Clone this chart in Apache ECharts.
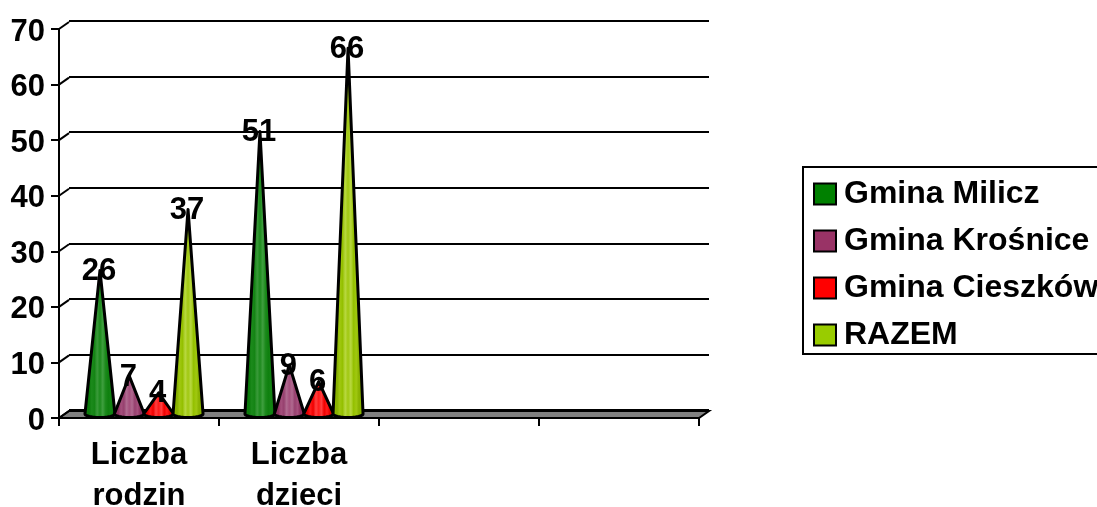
<!DOCTYPE html>
<html><head><meta charset="utf-8">
<style>html,body{margin:0;padding:0;background:#fff}#c{width:1097px;height:507px}</style>
<script src="https://cdn.jsdelivr.net/npm/echarts@6/dist/echarts.min.js"></script>
</head><body><div id="c"></div>
<script>
const categories = ['Liczba\nrodzin', 'Liczba\ndzieci', '', ''];
const milicz = [26, 51];
const krosnice = [7, 9];
const cieszkow = [4, 6];
const razem = [37, 66];
const yTicks = [0, 10, 20, 30, 40, 50, 60, 70];

const FONT = '"Liberation Sans", Arial, sans-serif';
const DX = 10, DY = 7;
function coneGradient(stops) {
  const list = [];
  const n = stops.length;
  stops.forEach((c, i) => list.push({ offset: i / (n - 1), color: c }));
  return { type: 'linear', x: 0, y: 0, x2: 1, y2: 0, colorStops: list };
}
const seriesDefs = [
  { name: 'Gmina Milicz', data: milicz, color: '#008000', stops: ['#0a6a0a','#0f800f','#0a7a0a','#1c8a1c','#148414','#3a9a3a','#1c8a1c','#3f9f3f','#1c8a1c','#0f800f','#148414','#0f7a0f','#0a6a0a'], slot: 0 },
  { name: 'Gmina Krośnice', data: krosnice, color: '#993366', stops: ['#7e2a55','#993366','#8c2e5e','#a5507d','#96406e','#b06a90','#a5507d','#b06a90','#96406e','#a5507d','#8c2e5e','#993366','#7e2a55'], slot: 1 },
  { name: 'Gmina Cieszków', data: cieszkow, color: '#FF0000', stops: ['#d80000','#f00000','#e60000','#ff1a1a','#f00000','#ff4040','#ff1a1a','#ff4040','#f00000','#ff1a1a','#e60000','#f00000','#d80000'], slot: 2 },
  { name: 'RAZEM', data: razem, color: '#99CC00', stops: ['#7a9c00','#90bc00','#88b000','#a0c810','#94c000','#b8d840','#a0c810','#b8d840','#94c000','#a0c810','#88b000','#90bc00','#7a9c00'], slot: 3 }
];

function coneRenderer(def) {
  return function (params, api) {
    const cat = api.value(0), v = api.value(1);
    const p = api.coord([cat, v]);
    const base = api.coord([cat, 0]);
    const bandW = api.size([1, 0])[0];
    const cx = p[0] + 5 + (def.slot - 1.5) * bandW * 0.1835;
    const halfW = 15, ry = 3.5;
    const by = base[1] - 4;
    const tipY = p[1] - 3;
    const pts = [[cx, tipY]];
    for (let a = 0; a <= 180; a += 15) {
      const r = a * Math.PI / 180;
      pts.push([cx + halfW * Math.cos(r), by + ry * Math.sin(r)]);
    }
    return {
      type: 'group',
      children: [
        { type: 'polygon', z2: 1, shape: { points: pts },
          style: { fill: coneGradient(def.stops), stroke: '#000', lineWidth: 3, lineJoin: 'round' } },
        { type: 'text', z2: 5, style: { text: String(v), x: cx - 1, y: tipY + 1, align: 'center', verticalAlign: 'middle',
          font: 'bold 31px ' + FONT, fill: '#000' } }
      ]
    };
  };
}

const chart = echarts.init(document.getElementById('c'), null, { renderer: 'canvas' });
const axisText = { fontFamily: FONT, fontWeight: 'bold', fontSize: 31, color: '#000' };
const blackLine = { color: '#000', width: 2 };

chart.setOption({
  animation: false,
  backgroundColor: '#fff',
  grid: [
    { left: 59, top: 29, width: 640, height: 389, outerBoundsMode: 'none' },
    { left: 59 + DX, top: 29 - DY - 1, width: 640, height: 389, outerBoundsMode: 'none' }
  ],
  xAxis: [
    { gridIndex: 0, type: 'category', data: categories, boundaryGap: true,
      axisLine: { lineStyle: blackLine }, axisTick: { show: true, length: 8, lineStyle: blackLine, alignWithLabel: false },
      axisLabel: { ...axisText, interval: 0, margin: 17, lineHeight: 41 }, splitLine: { show: false } },
    { gridIndex: 1, type: 'category', data: categories, show: false }
  ],
  yAxis: [
    { gridIndex: 0, type: 'value', min: 0, max: 70, interval: 10,
      axisLine: { show: true, lineStyle: blackLine }, axisTick: { show: true, length: 8, lineStyle: blackLine },
      axisLabel: { ...axisText, margin: 14, verticalAlign: 'top', lineHeight: 6 }, splitLine: { show: false } },
    { gridIndex: 1, type: 'value', min: 0, max: 70, interval: 10,
      axisLine: { show: false }, axisTick: { show: false }, axisLabel: { show: false },
      splitLine: { show: true, lineStyle: blackLine } }
  ],
  legend: {
    orient: 'vertical', left: 803, top: 167, padding: [9, 20, 1, 10],
    itemWidth: 22, itemHeight: 21, itemGap: 11,
    backgroundColor: '#fff', borderColor: '#000', borderWidth: 2,
    textStyle: { ...axisText, fontSize: 32, lineHeight: 36, padding: [0, 0, 0, 3] },
    selectedMode: false,
    data: seriesDefs.map(d => ({ name: d.name, icon: 'rect',
      itemStyle: { color: d.color, borderColor: '#000', borderWidth: 2 } }))
  },
  series: [
    { type: 'custom', name: 'floor', xAxisIndex: 0, yAxisIndex: 0, z: 1, silent: true, clip: false,
      data: yTicks.map(t => [0, t]),
      renderItem(params, api) {
        const cs = params.coordSys;
        const y = api.coord([0, api.value(1)])[1];
        const x0 = cs.x, x1 = cs.x + cs.width;
        const kids = [{ type: 'line', shape: { x1: x0, y1: y, x2: x0 + DX, y2: y - DY },
          style: { stroke: '#000', lineWidth: 2 } }];
        if (api.value(1) === 0) {
          kids.unshift({ type: 'polygon',
            shape: { points: [[x0, y], [x0 + DX, y - DY], [x1 + DX, y - DY], [x1, y]] },
            style: { fill: '#808080', stroke: '#000', lineWidth: 2 } });
        }
        return { type: 'group', children: kids };
      } },
    ...seriesDefs.map(d => ({
      type: 'custom', name: d.name, xAxisIndex: 0, yAxisIndex: 0, z: 3, clip: false,
      itemStyle: { color: d.color },
      encode: { x: 0, y: 1 },
      data: d.data.map((v, i) => [i, v]),
      renderItem: coneRenderer(d)
    }))
  ]
});
</script></body></html>
